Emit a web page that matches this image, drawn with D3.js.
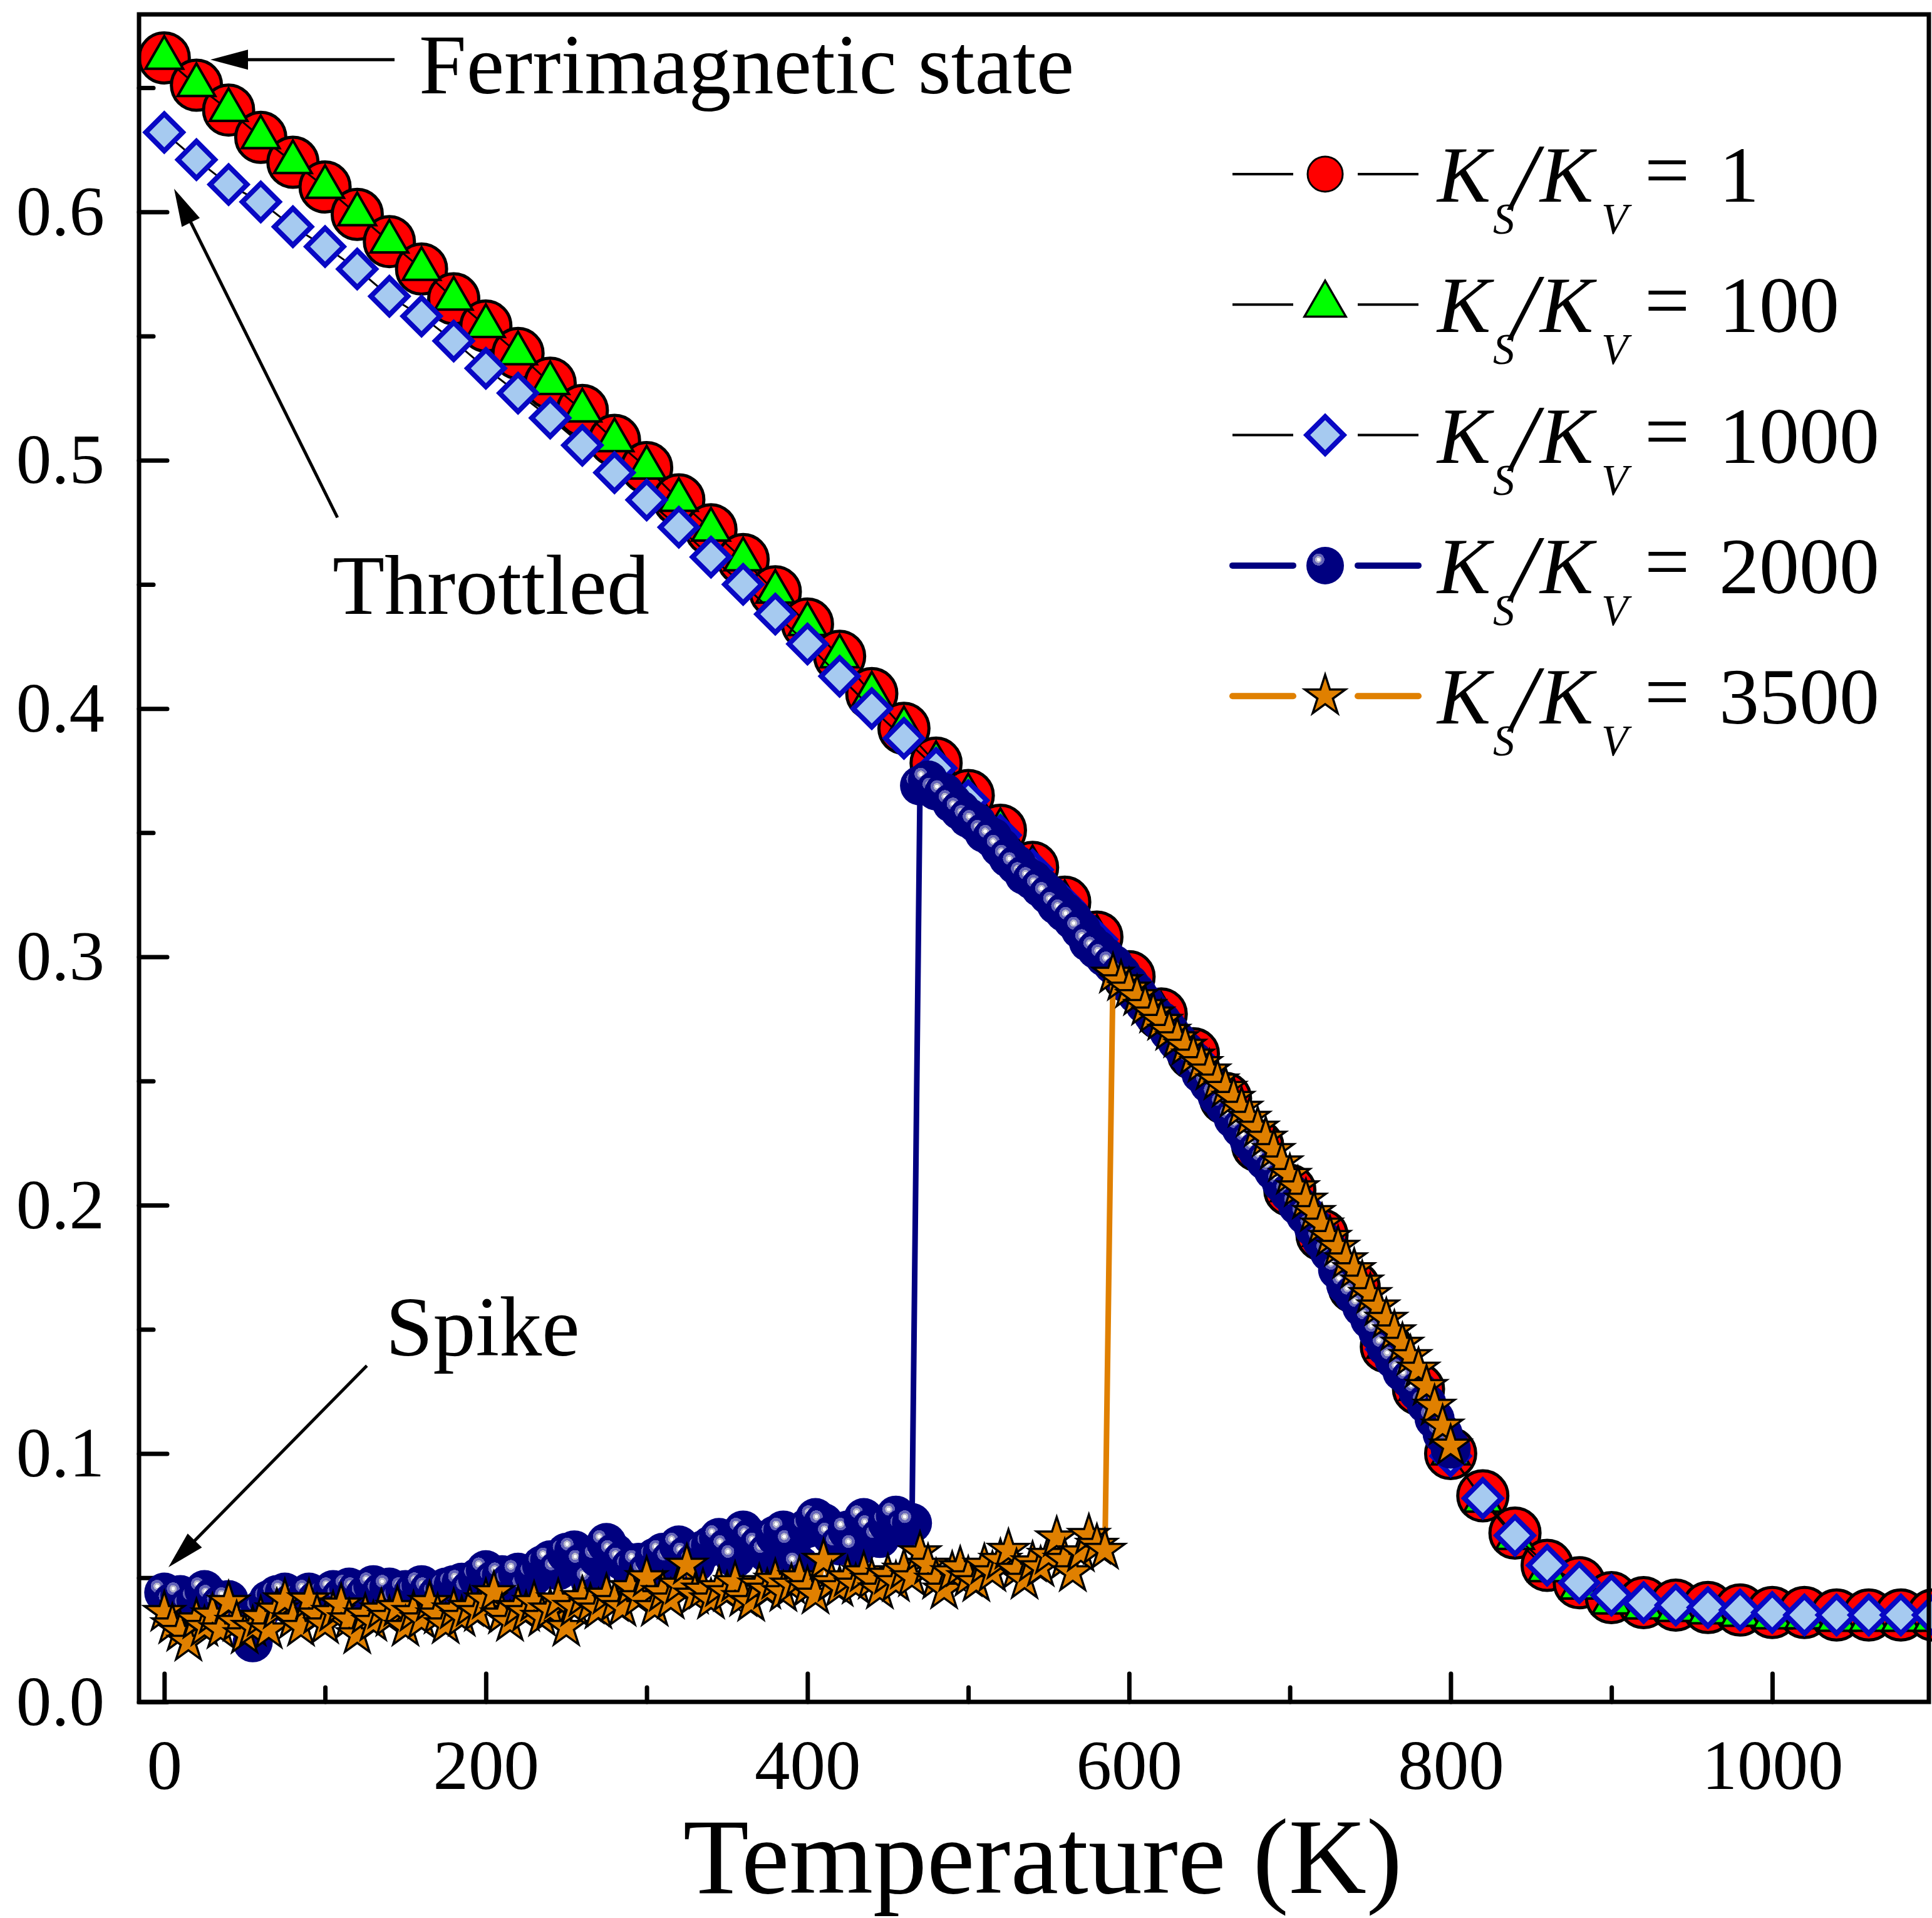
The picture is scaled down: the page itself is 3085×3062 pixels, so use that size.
<!DOCTYPE html>
<meta charset="utf-8">

<style>
body { margin: 0; background: #fff; }
svg { display: block; }
text { font-family: "Liberation Serif", "Times New Roman", serif; fill: #000; }
</style>

<script src="https://d3js.org/d3.v7.min.js"></script>
<div id="chart"></div>

<script>
// temperature grid of the Ks/Kv = 1, 100, 1000 runs (K)
var tempsMain = [0,20,40,60,80,100,120,140,160,180,
  200,220,240,260,280,300,320,340,360,380,
  400,420,440,460,480,500,520,540,560,580,
  600,620,640,660,680,700,720,740,760,780,
  800,820,840,860,880,900,920,940,960,980,
  1000,1020,1040,1060,1080,1100];

// temperature grid of the Ks/Kv = 2000, 3500 runs (K)
var tempsFine = [0,5,10,15,20,25,30,35,40,45,
  50,55,60,65,70,75,80,85,90,95,
  100,105,110,115,120,125,130,135,140,145,
  150,155,160,165,170,175,180,185,190,195,
  200,205,210,215,220,225,230,235,240,245,
  250,255,260,265,270,275,280,285,290,295,
  300,305,310,315,320,325,330,335,340,345,
  350,355,360,365,370,375,380,385,390,395,
  400,405,410,415,420,425,430,435,440,445,
  450,455,460,465,470,475,480,485,490,495,
  500,505,510,515,520,525,530,535,540,545,
  550,555,560,565,570,575,580,585,590,595,
  600,605,610,615,620,625,630,635,640,645,
  650,655,660,665,670,675,680,685,690,695,
  700,705,710,715,720,725,730,735,740,745,
  750,755,760,765,770,775,780,785,790,795,
  800];

var ks1 = [.662,.651,.641,.630,.620,.610,.599,.588,.577,.565,
  .554,.543,.531,.520,.508,.497,.484,.472,.460,.447,
  .434,.421,.406,.392,.378,.365,.351,.336,.322,.308,
  .292,.277,.261,.243,.224,.206,.188,.167,.143,.126,
  .100,.083,.068,.055,.048,.042,.040,.039,.038,.037,
  .036,.036,.035,.035,.035,.035];

var ks100 = [.662,.651,.641,.630,.620,.610,.599,.588,.577,.565,
  .554,.543,.531,.520,.508,.497,.484,.472,.460,.447,
  .434,.421,.406,.392,.378,.365,.351,.336,.322,.308,
  .292,.277,.261,.243,.224,.206,.188,.167,.143,.126,
  .100,.081,.066,.053,.046,.040,.038,.037,.036,.035,
  .034,.034,.033,.033,.033,.033];

var ks1000 = [.632,.621,.611,.604,.594,.586,.577,.566,.558,.548,
  .537,.527,.517,.506,.495,.484,.473,.461,.450,.438,
  .426,.413,.400,.388,.376,.363,.349,.335,.321,.307,
  .291,.276,.260,.242,.223,.205,.187,.166,.142,.125,
  .099,.082,.067,.055,.048,.043,.040,.039,.038,.037,
  .036,.035,.035,.035,.035,.035];

var ks2000 = [.044,.040,.043,.038,.041,.045,.042,.039,.041,.036,
  .033,.024,.037,.041,.043,.044,.040,.042,.044,.041,
  .043,.045,.042,.046,.045,.043,.047,.044,.046,.041,
  .045,.044,.047,.045,.043,.046,.047,.048,.045,.050,
  .053,.049,.051,.048,.052,.046,.051,.055,.057,.053,
  .060,.061,.056,.049,.058,.064,.060,.057,.054,.056,
  .052,.058,.060,.057,.063,.059,.056,.061,.063,.066,
  .062,.058,.069,.066,.063,.060,.067,.069,.064,.055,
  .070,.074,.072,.067,.063,.069,.062,.074,.070,.066,
  .072,.075,.070,.072,.369,.371,.367,.366,.362,.359,
  .356,.354,.350,.348,.344,.340,.337,.333,.331,.328,
  .325,.321,.318,.315,.311,.306,.303,.300,.297,.293,
  .289,.285,.281,.277,.274,.270,.266,.262,.258,.253,
  .249,.244,.240,.235,.231,.226,.222,.218,.214,.209,
  .205,.200,.196,.191,.186,.181,.174,.168,.164,.159,
  .154,.149,.143,.138,.133,.130,.125,.120,.114,.108,
  .102];

var ks3500 = [.036,.031,.028,.024,.033,.030,.035,.029,.040,.032,
  .027,.030,.034,.029,.037,.041,.033,.030,.041,.035,
  .031,.036,.039,.033,.027,.035,.032,.037,.034,.038,
  .030,.036,.033,.040,.035,.031,.037,.034,.038,.036,
  .041,.044,.035,.032,.038,.036,.040,.034,.037,.041,
  .030,.038,.042,.039,.037,.043,.040,.038,.046,.042,
  .050,.038,.044,.041,.047,.055,.043,.045,.041,.046,
  .044,.048,.042,.040,.047,.045,.049,.044,.047,.050,
  .046,.043,.057,.048,.046,.050,.047,.052,.049,.045,
  .051,.048,.053,.050,.060,.055,.049,.045,.052,.054,
  .050,.048,.055,.052,.057,.061,.053,.049,.056,.054,
  .059,.066,.057,.052,.060,.067,.063,.061,.293,.290,
  .287,.284,.280,.277,.274,.270,.267,.264,.260,.257,
  .254,.250,.247,.243,.239,.235,.231,.227,.222,.217,
  .212,.207,.202,.197,.192,.187,.183,.178,.174,.169,
  .164,.159,.154,.149,.144,.139,.134,.127,.119,.111,
  .103];

var xMajorTicks = [0, 200, 400, 600, 800, 1000];
var xMinorTicks = [100, 300, 500, 700, 900];
var yMajorTicks = [0, 0.1, 0.2, 0.3, 0.4, 0.5, 0.6];
var yMinorTicks = [0.05, 0.15, 0.25, 0.35, 0.45, 0.55, 0.65];
var legendLabels = ["1", "100", "1000", "2000", "3500"];

var width = 3085, height = 3062;
var plot = {left: 222, right: 3080, top: 23, bottom: 2717};

var svg = d3.select("#chart")
  .append("svg")
    .attr("width", width)
    .attr("height", height);

svg.append("rect").attr("width", width).attr("height", height).attr("fill", "#fff");

// shaded ball used by the 2000 series
var grad = svg.append("defs").append("radialGradient")
    .attr("id", "sph")
    .attr("cx", 0.32).attr("cy", 0.34).attr("r", 0.16)
    .attr("fx", 0.32).attr("fy", 0.34);
[[0, "#ffffff"], [0.28, "#ffffff"], [0.28, "#b8b8cc"], [0.55, "#b8b8cc"],
 [0.55, "#6464b8"], [0.99, "#6464b8"], [1, "#000080"]].forEach(function(s) {
  grad.append("stop").attr("offset", s[0]).attr("stop-color", s[1]);
});

var x = d3.scaleLinear().domain([-15.7, 1097.4]).range([plot.left, plot.right]);
var y = d3.scaleLinear().domain([0, 0.6795]).range([plot.bottom, plot.top]);

// axes (ticks point inward)
var axisFont = 113;
svg.append("g")
    .attr("transform", "translate(0," + plot.bottom + ")")
    .call(d3.axisBottom(x).tickValues(xMajorTicks).tickSizeInner(-45).tickSizeOuter(0)
      .tickPadding(59).tickFormat(d3.format("d")));
svg.append("g")
    .attr("transform", "translate(0," + plot.bottom + ")")
    .call(d3.axisBottom(x).tickValues(xMinorTicks).tickSizeInner(-23).tickSizeOuter(0)
      .tickFormat(""));
var yAxis = svg.append("g")
    .attr("transform", "translate(" + plot.left + ",0)")
    .call(d3.axisLeft(y).tickValues(yMajorTicks).tickSizeInner(-45).tickSizeOuter(0)
      .tickPadding(55).tickFormat(d3.format(".1f")));
svg.append("g")
    .attr("transform", "translate(" + plot.left + ",0)")
    .call(d3.axisLeft(y).tickValues(yMinorTicks).tickSizeInner(-23).tickSizeOuter(0)
      .tickFormat(""));

svg.selectAll(".domain").remove();
svg.selectAll(".tick line")
    .attr("stroke", "#000")
    .attr("stroke-width", 7)
    .attr("stroke-linecap", "round");
svg.selectAll(".tick text")
    .attr("font-family", '"Liberation Serif", "Times New Roman", serif')
    .attr("font-size", axisFont)
    .attr("fill", "#000");
yAxis.selectAll(".tick text").attr("dy", "0.32em");

svg.append("text")
    .attr("x", 1665)
    .attr("y", 3022)
    .attr("text-anchor", "middle")
    .attr("font-size", 172)
    .text("Temperature (K)");

// markers
var markers = {
  circle:   {d: d3.symbol(d3.symbolCircle, Math.PI * 40 * 40)(), fill: "#ff0000", stroke: "#000", sw: 5, rot: 0},
  triangle: {d: d3.symbol(d3.symbolTriangle, 1560)(), fill: "#00ff00", stroke: "#000", sw: 4, rot: 0},
  diamond:  {d: d3.symbol(d3.symbolSquare, 1740)(), fill: "#a6caf0", stroke: "#0808c4", sw: 8, rot: 45},
  sphere:   {d: d3.symbol(d3.symbolCircle, Math.PI * 32 * 32)(), fill: "url(#sph)", stroke: "none", sw: 0, rot: 0},
  star:     {d: d3.symbol(d3.symbolStar, 1260)(), fill: "#e08000", stroke: "#000", sw: 3.5, rot: 0}
};
var legendMarkers = {
  circle:   {d: d3.symbol(d3.symbolCircle, Math.PI * 28 * 28)(), fill: "#ff0000", stroke: "#000", sw: 3, rot: 0},
  triangle: {d: d3.symbol(d3.symbolTriangle, 1900)(), fill: "#00ff00", stroke: "#000", sw: 3.5, rot: 0},
  diamond:  markers.diamond,
  sphere:   {d: d3.symbol(d3.symbolCircle, Math.PI * 30 * 30)(), fill: "url(#sph)", stroke: "none", sw: 0, rot: 0},
  star:     {d: d3.symbol(d3.symbolStar, 1300)(), fill: "#e08000", stroke: "#000", sw: 3.5, rot: 0}
};

var seriesList = [
  {temps: tempsMain, vals: ks1,    color: "#000",    lw: 3, lwLegend: 4, marker: "circle"},
  {temps: tempsMain, vals: ks100,  color: "#000",    lw: 3, lwLegend: 4, marker: "triangle"},
  {temps: tempsMain, vals: ks1000, color: "#000",    lw: 3, lwLegend: 4, marker: "diamond"},
  {temps: tempsFine, vals: ks2000, color: "#000080", lw: 9, lwLegend: 10, marker: "sphere"},
  {temps: tempsFine, vals: ks3500, color: "#e08000", lw: 9, lwLegend: 10, marker: "star"}
];

var line = d3.line()
    .x(function(d) { return x(d[0]); })
    .y(function(d) { return y(d[1]); });

function placeMarker(sel, m) {
  sel.attr("d", m.d)
    .attr("fill", m.fill)
    .attr("stroke", m.stroke)
    .attr("stroke-width", m.sw)
    .attr("stroke-linejoin", "miter");
}

seriesList.forEach(function(s) {
  var pts = s.temps.map(function(t, i) { return [t, s.vals[i]]; });
  var g = svg.append("g");
  g.append("path")
      .datum(pts)
      .attr("d", line)
      .attr("fill", "none")
      .attr("stroke", s.color)
      .attr("stroke-width", s.lw)
      .attr("stroke-linejoin", "round");
  var m = markers[s.marker];
  g.selectAll("path.mk")
    .data(pts)
    .enter()
    .append("path")
      .attr("class", "mk")
      .attr("transform", function(d) {
        return "translate(" + x(d[0]) + "," + y(d[1]) + ") rotate(" + m.rot + ")";
      })
      .call(placeMarker, m);
});

// frame on top
svg.append("rect")
    .attr("x", plot.left)
    .attr("y", plot.top)
    .attr("width", plot.right - plot.left)
    .attr("height", plot.bottom - plot.top)
    .attr("fill", "none")
    .attr("stroke", "#000")
    .attr("stroke-width", 7);

// legend
var legendTop = 278, legendGap = 208.3;
seriesList.forEach(function(s, i) {
  var ry = legendTop + i * legendGap;
  var g = svg.append("g");
  var round = s.lw > 5 ? "round" : "butt";
  [[1968, 2065], [2168, 2265]].forEach(function(seg) {
    g.append("line")
        .attr("x1", seg[0]).attr("x2", seg[1])
        .attr("y1", ry).attr("y2", ry)
        .attr("stroke", s.color)
        .attr("stroke-width", s.lwLegend)
        .attr("stroke-linecap", round);
  });
  var m = legendMarkers[s.marker];
  g.append("path")
      .attr("transform", "translate(2116," + ry + ") rotate(" + m.rot + ")")
      .call(placeMarker, m);

  var t = g.append("text");
  t.append("tspan").attr("x", 2295).attr("y", ry + 44)
    .attr("font-style", "italic").attr("font-size", 128).text("K");
  t.append("tspan").attr("x", 2384).attr("y", ry + 95)
    .attr("font-style", "italic").attr("font-size", 69).text("S");
  t.append("tspan").attr("x", 2413).attr("y", ry + 56)
    .attr("font-style", "italic").attr("font-size", 150).text("/");
  t.append("tspan").attr("x", 2459).attr("y", ry + 44)
    .attr("font-style", "italic").attr("font-size", 128).text("K");
  t.append("tspan").attr("x", 2557).attr("y", ry + 95)
    .attr("font-style", "italic").attr("font-size", 69).text("V");
  t.append("tspan").attr("x", 2626).attr("y", ry + 36)
    .attr("font-size", 128).text("=");
  t.append("tspan").attr("x", 2745).attr("y", ry + 44)
    .attr("font-size", 128).text(legendLabels[i]);
});

// annotations, positions in data units
var notes = [
  {text: "Ferrimagnetic state", tx: 158.4, ty: 0.6476, from: [143.2, 0.6613], to: [28.7, 0.6613]},
  {text: "Throttled",           tx: 104.6, ty: 0.4381, from: [107.7, 0.4769], to: [6.1, 0.6093]},
  {text: "Spike",               tx: 137.7, ty: 0.1395, from: [126.0, 0.1354], to: [2.6, 0.0542]}
];

notes.forEach(function(n) {
  var x1 = x(n.from[0]), y1 = y(n.from[1]);
  var x2 = x(n.to[0]), y2 = y(n.to[1]);
  var dx = x2 - x1, dy = y2 - y1, len = Math.sqrt(dx * dx + dy * dy);
  var ux = dx / len, uy = dy / len;
  var headL = 60, headW = 16;
  var bx = x2 - ux * headL, by = y2 - uy * headL;
  svg.append("line")
      .attr("x1", x1).attr("y1", y1)
      .attr("x2", bx + ux * 4).attr("y2", by + uy * 4)
      .attr("stroke", "#000")
      .attr("stroke-width", 5);
  svg.append("polygon")
      .attr("points", [
        [x2, y2],
        [bx - uy * headW, by + ux * headW],
        [bx + uy * headW, by - ux * headW]
      ].map(function(p) { return p.join(","); }).join(" "))
      .attr("fill", "#000");
  svg.append("text")
      .attr("x", x(n.tx))
      .attr("y", y(n.ty))
      .attr("font-size", 136)
      .text(n.text);
});
</script>
